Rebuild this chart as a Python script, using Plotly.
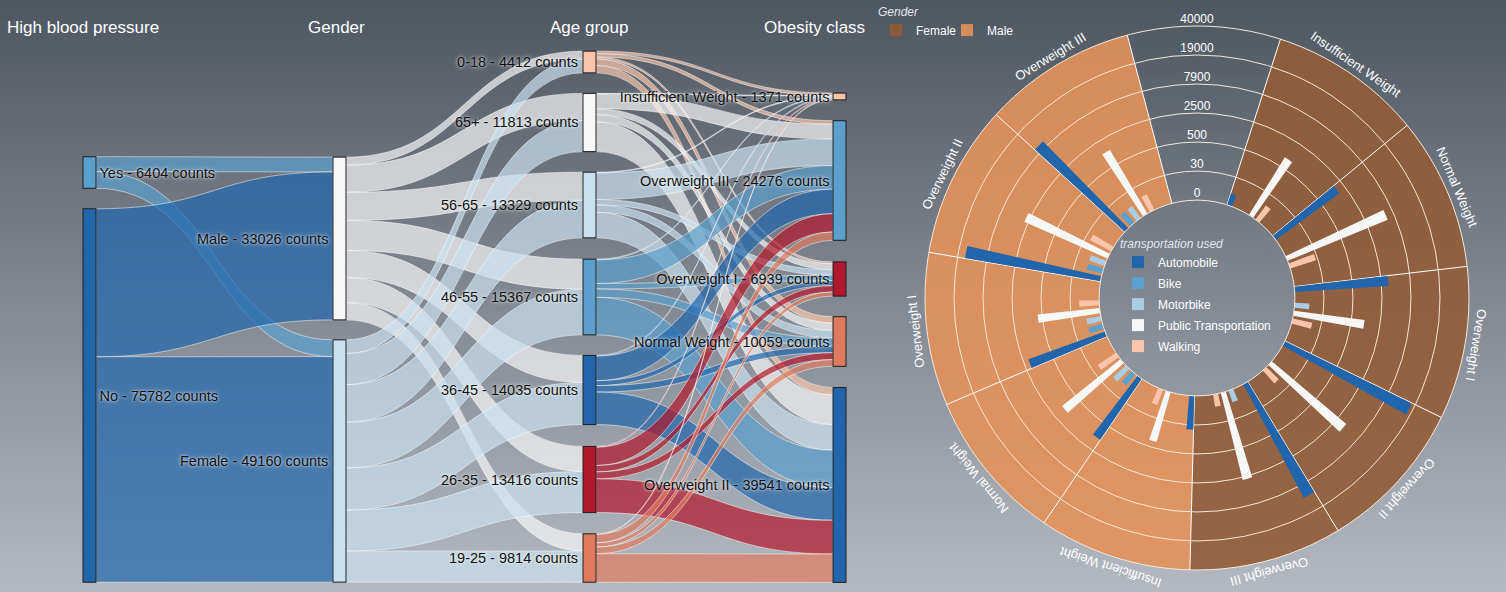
import base64
import math
import plotly.graph_objects as go

# ---------------- Sankey: high blood pressure -> gender -> age group -> obesity class
bp_labels = ["Yes", "No"]
bp_counts = [6404, 75782]
gender_labels = ["Male", "Female"]
gender_counts = [33026, 49160]
age_labels = ["0-18", "65+", "56-65", "46-55", "36-45", "26-35", "19-25"]
age_counts = [4412, 11813, 13329, 15367, 14035, 13416, 9814]
obesity_labels = ["Insufficient Weight", "Overweight III", "Overweight I", "Normal Weight", "Overweight II"]
obesity_counts = [1371, 24276, 6939, 10059, 39541]

# rows: Yes, No / cols: Male, Female
bp_to_gender = [[3000, 3404],
                [30026, 45756]]
# rows: Male, Female / cols: age groups
gender_to_age = [[1630, 5500, 5700, 6100, 5500, 5100, 3496],
                 [2782, 6313, 7629, 9267, 8535, 8316, 6318]]
# rows: age groups / cols: obesity classes
age_to_obesity = [[500, 700, 400, 1300, 1512],
                  [100, 3000, 1200, 1500, 6013],
                  [150, 5400, 1100, 1500, 5179],
                  [150, 4800, 1100, 1700, 7617],
                  [150, 4976, 1000, 1300, 6609],
                  [171, 3700, 1300, 1400, 6845],
                  [150, 1700, 839, 1359, 5766]]

# ---------------- Polar bars: transportation used by gender and obesity class
gender_names = ["Female", "Male"]
class_names = ["Insufficient Weight", "Normal Weight", "Overweight I", "Overweight II", "Overweight III"]
transport_names = ["Automobile", "Bike", "Motorbike", "Public Transportation", "Walking"]
# rows: obesity class / cols: transport
female_transport = [[1, 0, 0, 925, 4],
                    [1686, 0, 0, 5975, 23],
                    [3404, 0, 2, 1113, 7],
                    [17365, 0, 0, 3937, 4],
                    [11993, 0, 1, 2814, 1]]
male_transport = [[56, 0, 0, 310, 3],
                  [1284, 2, 4, 1368, 10],
                  [1923, 2, 2, 660, 7],
                  [15578, 3, 3, 2963, 14],
                  [9600, 2, 2, 1305, 4]]
radial_ticktext = ["0", "30", "500", "2500", "7900", "19000", "40000"]
radial_max = 40000

# ---------------- colours
bp_colors = ["#5a9fcd", "#2166ac"]
gender_node_colors = ["#f7f7f7", "#c9e0ee"]
age_colors = ["#f9c4a8", "#f7f7f7", "#c9e0ee", "#5a9fcd", "#2166ac", "#b2182b", "#e07a5f"]
obesity_colors = ["#f9c4a8", "#5a9fcd", "#b2182b", "#e07a5f", "#2166ac"]
transport_colors = ["#2166ac", "#5aa1cf", "#a8cde4", "#f7f7f7", "#f9c4a8"]
wedge_colors = ["#935c38", "#e4925a"]

W, H = 1506, 592
HALO = "0px 0px 3px rgba(255,255,255,0.85), 0px 0px 6px rgba(255,255,255,0.45)"


def rgba(hex_color, alpha):
    h = hex_color.lstrip("#")
    return "rgba({},{},{},{})".format(int(h[0:2], 16), int(h[2:4], 16), int(h[4:6], 16), alpha)


# background gradient of the page
svg = ('<svg xmlns="http://www.w3.org/2000/svg" width="100" height="100" '
       'viewBox="0 0 100 100" preserveAspectRatio="none"><defs>'
       '<linearGradient id="g" x1="0" y1="0" x2="0" y2="1">'
       '<stop offset="0" stop-color="#4e5660"/><stop offset="1" stop-color="#b4b9c1"/>'
       '</linearGradient></defs><rect width="100" height="100" fill="url(#g)"/></svg>')
bg_uri = "data:image/svg+xml;base64," + base64.b64encode(svg.encode()).decode()

# ---------------- sankey
node_names = bp_labels + gender_labels + age_labels + obesity_labels
node_counts = bp_counts + gender_counts + age_counts + obesity_counts
node_colors = bp_colors + gender_node_colors + age_colors + obesity_colors
node_text = ["{} - {} counts".format(n, c) for n, c in zip(node_names, node_counts)]

sources, targets, values, link_colors = [], [], [], []


def add_links(src_offset, tgt_offset, matrix, src_colors):
    for i, row in enumerate(matrix):
        for j, v in enumerate(row):
            sources.append(src_offset + i)
            targets.append(tgt_offset + j)
            values.append(v)
            link_colors.append(rgba(src_colors[i], 0.7))


add_links(0, 2, bp_to_gender, bp_colors)
add_links(2, 4, gender_to_age, gender_node_colors)
add_links(4, 11, age_to_obesity, age_colors)

# node placement (fractions of the sankey domain)
sk_left, sk_right, sk_top, sk_bottom = 83, 846, 51, 582
col_px = [89.5] * 2 + [339.5] * 2 + [589.5] * 7 + [839.5] * 5
row_px = [172.5, 395.5, 238.5, 461, 62, 122.5, 205, 297, 390, 479.5, 558,
          96.5, 180.5, 279, 341.5, 485]
node_x = [(c - sk_left) / (sk_right - sk_left) for c in col_px]
node_y = [(r - sk_top) / (sk_bottom - sk_top) for r in row_px]

# the gender and age labels sit on the left of their nodes -> drawn as annotations
left_label_nodes = range(2, 11)
sankey_labels = ["" if i in left_label_nodes else t for i, t in enumerate(node_text)]

fig = go.Figure()

fig.add_trace(go.Sankey(
    domain=dict(x=[sk_left / W, sk_right / W], y=[(H - sk_bottom) / H, (H - sk_top) / H]),
    arrangement="fixed",
    node=dict(label=sankey_labels, color=node_colors, pad=21, thickness=13,
              line=dict(color="#1e1e1e", width=1), x=node_x, y=node_y,
              customdata=node_text, hovertemplate="%{customdata}<extra></extra>"),
    link=dict(source=sources, target=targets, value=values, color=link_colors,
              line=dict(color="rgba(255,255,255,0.85)", width=0.6)),
    textfont=dict(family="Arial", size=14.5, color="#111111", shadow=HALO),
))

# ---------------- polar chart
SLOT = 360 / 11          # ten sectors plus the gap holding the radial labels
ROT = 1.5
SUB = SLOT / 7
rmax = radial_max ** 0.25
tickvals = [rmax * k / 6 for k in range(7)]
sector_centers = [ROT + SLOT * k for k in range(1, 11)]
dividers = [ROT + SLOT * (k - 0.5) for k in range(1, 12)]

for g, name in enumerate(gender_names):
    fig.add_trace(go.Barpolar(
        r=[rmax] * 5, theta=sector_centers[g * 5:(g + 1) * 5], width=SLOT,
        subplot="polar", name=name, legend="legend2", opacity=0.9,
        marker=dict(color=wedge_colors[g], line=dict(width=0)), hoverinfo="name",
    ))

tables = [female_transport, male_transport]
for j, name in enumerate(transport_names):
    thetas, rs, counts = [], [], []
    for g, table in enumerate(tables):
        for c in range(5):
            start = sector_centers[g * 5 + c] - SLOT / 2
            thetas.append(start + SUB * j + 1.6)
            rs.append(table[c][j] ** 0.25)
            counts.append(table[c][j])
    fig.add_trace(go.Barpolar(
        r=rs, theta=thetas, width=3.0, subplot="polar2", name=name,
        legend="legend", legendgroup=name,
        marker=dict(color=transport_colors[j], line=dict(width=0)),
        customdata=counts, hovertemplate="%{customdata}<extra>" + name + "</extra>",
    ))

fig.add_trace(go.Scatterpolar(
    r=tickvals, theta=[0] * 7, mode="text", text=radial_ticktext,
    textposition="top center", textfont=dict(color="white", size=12, family="Arial"),
    subplot="polar2", showlegend=False, hoverinfo="skip",
))

cx, cy, R = 1197, 298, 272
polar_domain = dict(x=[(cx - R) / W, (cx + R) / W], y=[(H - cy - R) / H, (H - cy + R) / H])

annotations = []
headers = ["High blood pressure", "Gender", "Age group", "Obesity class"]
header_x = [83, 336, 589, 814]
for text, x in zip(headers, header_x):
    annotations.append(dict(text=text, x=x / W, y=1 - 27 / H, xref="paper", yref="paper",
                            showarrow=False, xanchor="center", yanchor="middle",
                            font=dict(color="white", size=17, family="Arial")))

for i in left_label_nodes:
    annotations.append(dict(text=node_text[i], x=(col_px[i] - 10) / W, y=1 - row_px[i] / H,
                            xref="paper", yref="paper", showarrow=False,
                            xanchor="right", yanchor="middle",
                            font=dict(color="#111111", size=14.5, family="Arial", shadow=HALO)))

label_r = R + 11
for k, theta in enumerate(sector_centers):
    a = math.radians(theta)
    px = cx + label_r * math.sin(a)
    py = cy - label_r * math.cos(a)
    annotations.append(dict(text=class_names[k % 5], x=px / W, y=1 - py / H,
                            xref="paper", yref="paper", showarrow=False,
                            xanchor="center", yanchor="middle",
                            textangle=((theta + 180) % 360) - 180,
                            font=dict(color="white", size=13, family="Arial")))

fig.update_layout(
    width=W, height=H,
    margin=dict(l=0, r=0, t=0, b=0),
    paper_bgcolor="#7f8690",
    images=[dict(source=bg_uri, xref="paper", yref="paper", x=0, y=1, sizex=1, sizey=1,
                 sizing="stretch", layer="below", xanchor="left", yanchor="top")],
    font=dict(family="Arial"),
    polar=dict(domain=polar_domain, hole=0.36, bgcolor="rgba(0,0,0,0)", barmode="overlay",
               radialaxis=dict(visible=False, range=[0, rmax]),
               angularaxis=dict(visible=False, rotation=90, direction="clockwise")),
    polar2=dict(domain=polar_domain, hole=0.36, bgcolor="rgba(0,0,0,0)", barmode="overlay",
                radialaxis=dict(range=[0, rmax], tickmode="array", tickvals=tickvals,
                                showticklabels=False, ticks="", showline=False,
                                gridcolor="#f5e8d8", gridwidth=1),
                angularaxis=dict(rotation=90, direction="clockwise", tickmode="array",
                                 tickvals=dividers, showticklabels=False, ticks="",
                                 gridcolor="white", gridwidth=1.2, showline=True,
                                 linecolor="#f5e8d8", linewidth=1)),
    legend=dict(title=dict(text="transportation used",
                           font=dict(style="italic", color="#e3e6ea", size=12)),
                x=1118 / W, y=1 - 232 / H, xanchor="left", yanchor="top",
                tracegroupgap=2,
                font=dict(color="white", size=12), bgcolor="rgba(0,0,0,0)"),
    legend2=dict(title=dict(text="Gender", side="top",
                            font=dict(style="italic", color="#e3e6ea", size=12)),
                 orientation="h", x=876 / W, y=1.0, xanchor="left", yanchor="top",
                 entrywidth=26, entrywidthmode="pixels",
                 font=dict(color="white", size=12), bgcolor="rgba(0,0,0,0)"),
    annotations=annotations,
)

fig.write_html("out.html", config={"displayModeBar": False},
               post_script="document.body.style.margin='0px';")
